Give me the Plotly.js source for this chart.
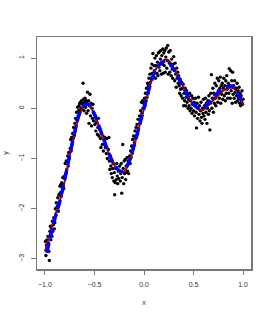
<!DOCTYPE html>
<html><head><meta charset="utf-8">
<script src="https://cdn.plot.ly/plotly-3.0.1.min.js"></script>
<style>html,body{margin:0;padding:0;background:#fff}#chart{width:270px;height:315px}</style>
</head><body><div id="chart"></div>
<script>
const pointsX = [
-0.995,-0.99,-0.985,-0.98,-0.975,-0.97,-0.965,-0.96,-0.955,-0.95,
-0.945,-0.94,-0.935,-0.93,-0.925,-0.92,-0.915,-0.91,-0.905,-0.9,
-0.895,-0.89,-0.885,-0.875,-0.87,-0.865,-0.86,-0.855,
-0.848,-0.845,-0.84,-0.835,-0.83,-0.825,-0.82,-0.815,-0.81,-0.805,
-0.795,-0.79,-0.785,-0.78,-0.77,-0.765,-0.76,-0.755,
-0.745,-0.74,-0.735,-0.73,-0.725,-0.72,-0.715,-0.71,-0.705,
-0.698,-0.695,-0.69,-0.685,-0.68,-0.675,-0.67,-0.665,-0.66,-0.655,
-0.648,-0.645,-0.64,-0.635,-0.63,-0.625,-0.62,-0.615,-0.61,-0.605,-0.6,
-0.595,-0.59,-0.585,-0.58,-0.575,-0.57,-0.565,-0.56,-0.555,-0.55,
-0.545,-0.54,-0.535,-0.53,-0.525,-0.52,-0.515,-0.51,-0.505,
-0.495,-0.49,-0.485,-0.48,-0.47,-0.465,-0.46,-0.455,
-0.445,-0.44,-0.435,-0.43,-0.42,-0.415,-0.41,-0.405,
-0.395,-0.39,-0.38,-0.375,-0.37,-0.36,-0.355,-0.35,
-0.345,-0.34,-0.335,-0.33,-0.325,-0.32,-0.315,-0.31,-0.305,-0.3,
-0.296,-0.29,-0.285,-0.28,-0.275,-0.27,-0.265,-0.26,-0.255,
-0.245,-0.24,-0.235,-0.23,-0.225,-0.22,-0.215,-0.21,-0.205,-0.2,
-0.195,-0.19,-0.185,-0.18,-0.175,-0.17,-0.165,-0.16,-0.155,
-0.145,-0.14,-0.135,-0.13,-0.125,-0.12,-0.115,-0.11,-0.105,
-0.095,-0.09,-0.085,-0.08,-0.075,-0.07,-0.065,-0.06,-0.055,
-0.045,-0.04,-0.035,-0.03,-0.025,-0.02,-0.015,-0.01,-0.005,
0.005,0.01,0.015,0.02,0.025,0.03,0.035,0.04,0.045,0.05,
0.055,0.06,0.065,0.07,0.075,0.08,0.085,0.09,0.095,0.1,
0.105,0.11,0.115,0.12,0.125,0.13,0.135,0.14,0.145,0.15,
0.155,0.16,0.165,0.17,0.175,0.18,0.185,0.19,0.195,0.2,
0.205,0.21,0.215,0.22,0.225,0.23,0.235,0.24,0.245,0.25,
0.255,0.26,0.265,0.27,0.275,0.28,0.285,0.29,0.295,0.3,
0.305,0.31,0.315,0.32,0.325,0.33,0.335,0.34,0.345,0.35,
0.355,0.36,0.365,0.37,0.375,0.38,0.385,0.39,0.395,0.4,
0.405,0.41,0.415,0.42,0.425,0.43,0.435,0.44,0.445,0.45,
0.455,0.46,0.465,0.47,0.475,0.48,0.485,0.49,0.495,0.5,
0.505,0.51,0.515,0.52,0.525,0.53,0.535,0.54,0.545,0.55,
0.555,0.56,0.565,0.57,0.575,0.58,0.585,0.59,0.595,0.6,
0.605,0.61,0.615,0.62,0.625,0.63,0.635,0.64,0.645,0.65,
0.655,0.66,0.665,0.67,0.675,0.68,0.685,0.69,0.695,0.7,
0.705,0.71,0.715,0.72,0.725,0.73,0.735,0.74,0.745,0.75,
0.755,0.76,0.765,0.77,0.775,0.78,0.785,0.79,0.795,0.8,
0.805,0.81,0.815,0.82,0.825,0.83,0.835,0.84,0.845,0.85,
0.855,0.86,0.865,0.87,0.875,0.88,0.885,0.89,0.895,0.9,
0.905,0.91,0.915,0.92,0.925,0.93,0.935,0.94,0.945,0.95,
0.955,0.96,0.965,0.97,0.975,0.98,0.985,0.99,0.995,1.0
];
const pointsY = [
-2.65,-2.93,-2.72,-2.62,-2.78,-2.55,-2.68,-2.85,-3.03,-2.45,
-2.35,-2.62,-2.4,-2.55,-2.25,-2.45,-2.32,-2.18,-2.4,-2.28,
-2.0,-2.12,-1.88,-1.95,-1.78,-2.05,-1.72,-1.9,
-1.55,-1.68,-1.52,-1.75,-1.48,-1.58,-1.38,-1.52,-1.6,-1.35,
-1.1,-1.3,-1.05,-1.22,-0.95,-1.15,-0.88,-1.0,
-0.8,-0.62,-0.85,-0.58,-0.72,-0.5,-0.6,-0.38,-0.55,
-0.3,-0.45,-0.2,-0.35,-0.08,-0.25,0.02,-0.15,-0.05,0.05,
0.1,-0.05,0.12,0.0,0.15,-0.02,0.08,0.5,0.18,-0.05,0.12,
0.2,0.02,0.15,-0.1,0.1,0.32,-0.05,0.15,-0.3,0.05,
0.28,-0.15,0.1,-0.35,0.0,-0.2,0.08,-0.25,-0.1,
-0.32,-0.15,-0.45,-0.28,-0.52,-0.38,-0.2,-0.55,
-0.42,-0.6,-0.78,-0.5,-0.72,-0.55,-0.85,-0.62,
-0.58,-0.78,-0.9,-0.6,-1.0,-0.82,-0.58,-1.05,
-1.22,-0.95,-1.15,-1.3,-1.05,-1.38,-1.2,-1.1,-1.45,-1.28,
-1.72,-1.48,-1.2,-1.42,-1.1,-1.35,-1.5,-1.25,-1.4,
-1.15,-1.45,-1.3,-1.1,-1.69,-1.38,-0.72,-1.2,-1.5,-1.05,
-1.3,-1.02,-1.42,-1.15,-1.28,-0.98,-1.25,-1.05,-1.3,
-0.95,-1.1,-0.85,-0.98,-0.75,-0.9,-0.62,-0.8,-0.55,
-0.68,-0.45,-0.6,-0.38,-0.55,-0.32,-0.5,-0.22,-0.4,
-0.15,-0.3,-0.05,-0.2,0.12,-0.1,0.15,0.0,0.1,
0.2,0.05,0.3,0.15,0.4,0.22,0.5,0.3,0.45,0.6,
0.45,0.68,0.52,0.8,0.6,0.88,0.7,1.09,0.62,0.85,
0.75,1.0,0.6,0.85,1.05,0.7,0.92,0.65,1.1,0.82,
1.12,0.75,0.98,1.15,0.68,1.05,0.88,1.18,0.7,1.1,
0.85,1.15,0.72,1.02,1.2,0.8,0.95,1.25,0.68,1.12,
0.9,0.72,1.15,0.85,0.65,0.98,0.78,0.6,0.88,1.03,
0.75,0.55,0.9,0.68,0.42,0.8,0.6,0.72,0.5,0.65,
0.45,0.3,0.58,0.38,0.25,0.52,0.4,0.2,0.48,0.05,
0.3,0.15,0.4,0.05,0.22,0.35,0.12,0.28,0.0,0.18,
0.05,0.3,-0.05,0.15,0.0,0.25,-0.1,0.08,0.2,-0.05,
0.12,-0.15,0.05,0.2,-0.08,-0.39,0.1,-0.2,0.0,0.22,
-0.12,0.05,-0.25,-0.05,0.12,-0.18,-0.3,0.0,-0.1,0.18,
-0.15,0.05,-0.22,0.2,-0.08,0.1,-0.3,0.0,0.15,-0.12,
0.25,-0.05,-0.43,0.1,0.3,0.67,0.0,0.2,0.4,-0.08,
0.3,0.1,0.5,0.2,0.05,0.45,0.25,0.6,0.12,0.35,
0.55,0.2,0.4,0.62,0.1,0.45,0.28,0.5,0.18,0.4,
0.6,0.25,0.45,0.15,0.55,0.3,0.65,0.38,0.2,0.5,
0.3,0.79,0.45,0.2,0.75,0.35,0.55,0.1,0.72,0.28,
0.45,0.2,0.55,0.32,0.12,0.4,0.25,0.5,0.15,0.35,
0.2,0.42,0.1,0.3,0.05,0.25,0.12,0.35,0.08,0.18
];
const trueX = [-1,-0.95,-0.9,-0.85,-0.8,-0.75,-0.7,-0.65,-0.6,-0.57,-0.55,-0.5,-0.45,-0.4,-0.35,-0.3,-0.25,-0.22,-0.2,-0.15,-0.1,-0.05,0,0.05,0.1,0.15,0.2,0.22,0.25,0.3,0.35,0.4,0.45,0.5,0.55,0.58,0.6,0.65,0.7,0.75,0.8,0.85,0.88,0.9,0.95,1];
const trueY = [-2.85,-2.5,-2.15,-1.85,-1.45,-0.95,-0.5,-0.12,0.05,0.08,0.06,-0.12,-0.38,-0.65,-0.92,-1.13,-1.25,-1.28,-1.26,-1.08,-0.75,-0.38,0,0.38,0.7,0.88,0.96,0.97,0.95,0.8,0.62,0.42,0.22,0.07,-0.02,-0.04,-0.03,0.06,0.16,0.26,0.35,0.4,0.41,0.4,0.3,0.07];
const fitX = [-0.98,-0.95,-0.9,-0.85,-0.8,-0.75,-0.7,-0.65,-0.6,-0.57,-0.55,-0.5,-0.45,-0.4,-0.35,-0.3,-0.25,-0.22,-0.2,-0.15,-0.1,-0.05,0,0.05,0.1,0.15,0.2,0.22,0.25,0.3,0.35,0.4,0.45,0.5,0.55,0.58,0.6,0.65,0.7,0.75,0.8,0.85,0.87,0.9,0.95,1];
const fitY = [-2.88,-2.6,-2.2,-1.85,-1.42,-0.93,-0.48,-0.1,0.06,0.08,0.06,-0.12,-0.38,-0.65,-0.92,-1.12,-1.24,-1.26,-1.24,-1.06,-0.74,-0.37,0.0,0.38,0.68,0.86,0.93,0.94,0.92,0.78,0.6,0.4,0.22,0.08,0.0,-0.01,0.0,0.1,0.22,0.32,0.4,0.44,0.45,0.43,0.3,0.05];
const xTicks = [-1.0,-0.5,0.0,0.5,1.0];
const xTickText = ["\u22121.0","\u22120.5","0.0","0.5","1.0"];
const yTicks = [-3,-2,-1,0,1];
const yTickText = ["\u22123","\u22122","\u22121","0","1"];

const traces = [
  {x: pointsX, y: pointsY, type: 'scatter', mode: 'markers',
   marker: {color: '#000', size: 3.4}, hoverinfo: 'skip'},
  {x: trueX, y: trueY, type: 'scatter', mode: 'lines',
   line: {color: '#a00000', width: 2, shape: 'spline'}},
  {x: fitX, y: fitY, type: 'scatter', mode: 'lines',
   line: {color: '#0000ff', width: 3.5, dash: '10px,5px', shape: 'spline'}}
];
const axisFont = {family: 'Liberation Sans, Arial, sans-serif', size: 7, color: '#333'};
const layout = {
  width: 270, height: 315,
  margin: {l: 37, r: 19, t: 37, b: 46, pad: 0},
  paper_bgcolor: '#fff', plot_bgcolor: '#fff',
  showlegend: false,
  xaxis: {range: [-1.08, 1.08], tickvals: xTicks, ticktext: xTickText,
    showgrid: false, zeroline: false, showline: true, mirror: true,
    linecolor: '#777', linewidth: 1.5, ticks: 'outside', ticklen: 4, tickcolor: '#777',
    ticklabelstandoff: 4,
    tickfont: axisFont, title: {text: 'x', font: axisFont, standoff: 13}},
  yaxis: {range: [-3.2, 1.42], tickvals: yTicks, ticktext: yTickText,
    showgrid: false, zeroline: false, showline: true, mirror: true,
    linecolor: '#777', linewidth: 1.5, ticks: 'outside', ticklen: 4.5, tickcolor: '#777',
    ticklabelstandoff: 4,
    tickangle: -90, tickfont: axisFont, title: {text: 'y', font: axisFont, standoff: 9}}
};
Plotly.newPlot('chart', traces, layout, {staticPlot: true, displayModeBar: false});
</script></body></html>
